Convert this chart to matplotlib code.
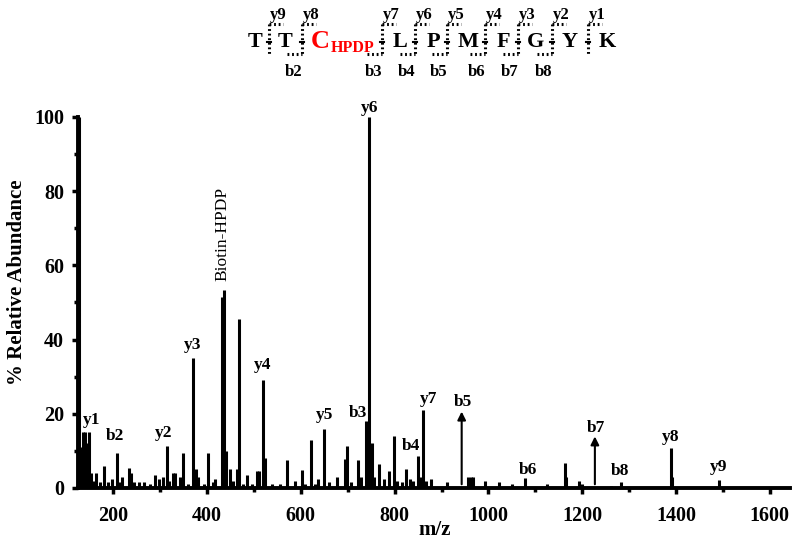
"""
MS/MS spectrum of biotin-HPDP labelled peptide TTC(HPDP)LPMFGYK
"""
################################################################################
# Required Packages
################################################################################
import matplotlib
matplotlib.use("Agg")
import matplotlib.pyplot as plt
from matplotlib.ticker import MultipleLocator

################################################################################
# Data
################################################################################
MZ = [128, 131, 135, 139, 142, 148, 153, 158, 164, 172, 181, 190, 197, 208,
      212, 219, 233, 238, 245, 255, 265, 278, 289, 298, 306, 314, 320, 327,
      332, 343, 348, 360, 371, 376, 381, 393, 403, 413, 418, 433, 436, 441,
      449, 455, 463, 468, 476, 485, 495, 506, 511, 519, 523, 538, 555, 571,
      588, 602, 610, 621, 630, 637, 649, 660, 677, 694, 699, 708, 721, 728,
      738, 743, 746, 751, 756, 767, 777, 789, 799, 805, 816, 824, 833, 840,
      850, 856, 860, 866, 877, 911, 957, 962, 967, 993, 1022, 1050, 1079,
      1124, 1163, 1166, 1193, 1200, 1262, 1282, 1389, 1392, 1491]
INTENSITY = [100, 11, 15, 15, 12, 15, 4, 2, 4, 1.5, 6, 1.5, 2.5, 9.5,
             1.5, 3, 5.5, 4, 1.5, 1.5, 1.5, 1, 3.5, 2.5, 3, 11.2, 2, 4,
             4, 3, 9.5, 1, 35, 5, 3, 1, 9.5, 1.5, 2.5, 51.5, 53.5, 10,
             5, 2, 5, 45.6, 1, 3.5, 1, 4.5, 4.5, 29, 8, 1, 1, 7.6,
             2, 4.9, 1, 13, 1, 2.5, 15.9, 1.5, 3, 7.8, 11.4, 1.5, 7.5, 3,
             18.1, 10, 100, 12, 3, 6.5, 2.5, 4.5, 14.1, 2, 1.5, 5, 2.5, 2,
             8.6, 3, 21.1, 2, 2.5, 1.5, 3, 3, 3, 2, 1.5, 1, 2.7,
             1, 6.7, 3, 2, 1, 0.5, 1.7, 10.7, 3, 2.2]

# fragment labels: text, m/z, height of label
ION_LABELS = ["y1", "b2", "y2", "y3", "y4", "y5", "b3", "y6", "b4", "y7",
              "b5", "b6", "b7", "b8", "y8", "y9"]
ION_MZ     = [155, 204, 307, 369, 518, 650, 721, 746, 836, 872,
              945, 1085, 1229, 1280, 1388, 1490]
ION_Y      = [18.4, 13.9, 14.8, 38.6, 33.2, 19.7, 20.2, 102.3, 11.2, 24,
              23.3, 4.9, 16.1, 4.7, 13.7, 5.6]

# off-scale fragments drawn as arrows
ARROW_MZ  = [943, 1227]
ARROW_TOP = [20.6, 13.9]

# peptide sequence
RESIDUES = ["T", "T", "C", "L", "P", "M", "F", "G", "Y", "K"]
Y_IONS   = ["y9", "y8", "y7", "y6", "y5", "y4", "y3", "y2", "y1"]
B_IONS   = ["", "b2", "b3", "b4", "b5", "b6", "b7", "b8", ""]

################################################################################
# Style
################################################################################
plt.rcParams["font.family"] = ["Liberation Serif", "DejaVu Serif"]
plt.rcParams["font.weight"] = "bold"

RES_X     = [255, 285, 320, 400, 433, 468, 503, 535, 570, 607]
CLEAVE_X  = [269, 302, 382, 415, 447, 485, 518, 552, 588]

################################################################################
# Spectrum
################################################################################
fig = plt.figure(figsize = (8, 5.48), dpi = 100)
ax  = fig.add_axes([0.0975, 0.1095, 0.89, 0.677])

ax.vlines(MZ, 0, INTENSITY, color = "black", lw = 2.2, clip_on = False)

for x, top in zip(ARROW_MZ, ARROW_TOP):
    ax.annotate("", xy = (x, top), xytext = (x, 1),
                arrowprops = dict(arrowstyle = "-|>", color = "black",
                                  lw = 1.5, mutation_scale = 12,
                                  shrinkA = 0, shrinkB = 0))

for lab, x, y in zip(ION_LABELS, ION_MZ, ION_Y):
    ax.text(x, y, lab, ha = "center", va = "center", fontsize = 12.5,
            fontweight = "bold")

ax.text(434, 68.6, "Biotin-HPDP", rotation = 90, ha = "center",
        va = "center", fontsize = 12.5, fontweight = "normal")

ax.set_xlim(125, 1643)
ax.set_ylim(0, 100)
ax.xaxis.set_major_locator(MultipleLocator(200))
ax.xaxis.set_minor_locator(MultipleLocator(100))
ax.yaxis.set_major_locator(MultipleLocator(20))
ax.yaxis.set_minor_locator(MultipleLocator(10))
ax.set_xticks(range(200, 1601, 200))
ax.tick_params(which = "major", direction = "out", length = 4, width = 2.5,
               labelsize = 14.5)
ax.tick_params(axis = "x", which = "major", pad = 9)
ax.tick_params(axis = "y", which = "major", pad = 6)
ax.tick_params(which = "minor", direction = "out", length = 3, width = 2.5)
for s in ["top", "right"]:
    ax.spines[s].set_visible(False)
for s in ["left", "bottom"]:
    ax.spines[s].set_linewidth(2.8)

ax.set_xlabel("m/z", fontsize = 15, fontweight = "bold", va = "center")
ax.set_ylabel("% Relative Abundance", fontsize = 15, fontweight = "bold",
              va = "center")
ax.xaxis.set_label_coords(0.501, -0.113)
ax.yaxis.set_label_coords(-0.086, 0.555)

################################################################################
# Peptide fragmentation scheme (pixel coordinates)
################################################################################
axp = fig.add_axes([0, 0, 1, 1])
axp.set_xlim(0, 800)
axp.set_ylim(548, 0)
axp.axis("off")

DOT = dict(color = "black", lw = 2.2, linestyle = (0, (0.6, 0.9)))

for i, (res, x) in enumerate(zip(RESIDUES, RES_X)):
    if res == "C":
        axp.text(x, 41, res, color = "red", ha = "center", va = "center",
                 fontsize = 19, fontweight = "bold")
        axp.text(353, 48, "HPDP", color = "red", ha = "center",
                 va = "center", fontsize = 11.5, fontweight = "bold")
    else:
        axp.text(x, 42, res, ha = "center", va = "center", fontsize = 16,
                 fontweight = "bold")

for xc, ylab, blab in zip(CLEAVE_X, Y_IONS, B_IONS):
    axp.plot([xc, xc], [24, 54], **DOT)
    axp.plot([xc, xc + 14], [24, 24], **DOT)
    axp.plot([xc - 2, xc + 2], [42, 42], color = "black", lw = 1.5)
    axp.text(xc + 9, 15, ylab, ha = "center", va = "center", fontsize = 12,
             fontweight = "bold")
    if blab:
        axp.plot([xc - 15, xc], [54, 54], **DOT)
        axp.text(xc - 8, 72, blab, ha = "center", va = "center",
                 fontsize = 12, fontweight = "bold")

fig.savefig("out.png", dpi = 100)
